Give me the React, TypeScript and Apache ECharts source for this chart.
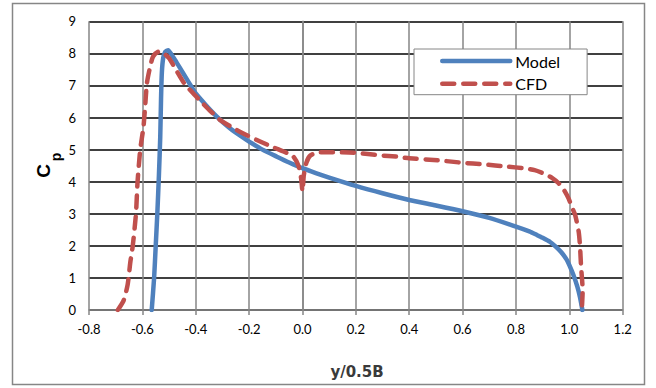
import React, { useEffect, useRef } from "react";
import * as echarts from "echarts";

// Pressure coefficient distribution across the span (y / 0.5B)
const modelX = [
  -0.565, -0.556, -0.55, -0.544, -0.538, -0.533, -0.53, -0.527, -0.522, -0.514,
  -0.503, -0.49, -0.477, -0.45, -0.425, -0.4, -0.36, -0.321, -0.28, -0.24, -0.2,
  -0.15, -0.096, -0.05, 0, 0.05, 0.1, 0.2, 0.3, 0.4, 0.5, 0.6, 0.7, 0.8, 0.85,
  0.878, 0.9, 0.928, 0.95, 0.97, 0.99, 1.0, 1.015, 1.03, 1.04, 1.049,
];
const modelY = [
  0, 1, 2, 3, 4.2, 5.4, 6.6, 7.4, 7.85, 8.05,
  8.1, 7.95, 7.79, 7.42, 7.08, 6.75, 6.37, 6.03, 5.72, 5.47, 5.25,
  5.0, 4.78, 4.6, 4.42, 4.27, 4.13, 3.87, 3.64, 3.43, 3.26, 3.08, 2.87, 2.6, 2.45,
  2.34, 2.25, 2.12, 1.97, 1.8, 1.57, 1.4, 1.1, 0.73, 0.4, 0,
];

const cfdX = [
  -0.692, -0.67, -0.655, -0.645, -0.636, -0.624, -0.618, -0.608, -0.596, -0.59,
  -0.583, -0.571, -0.56, -0.54, -0.52, -0.5, -0.475, -0.446, -0.415, -0.383,
  -0.345, -0.308, -0.246, -0.171, -0.109, -0.06, -0.034, -0.015, -0.005, 0,
  0.005, 0.015, 0.03, 0.066, 0.104, 0.2, 0.29, 0.354, 0.4, 0.516, 0.6, 0.678,
  0.766, 0.828, 0.87, 0.903, 0.935, 0.96, 0.98, 0.997, 1.01, 1.022, 1.035, 1.04,
  1.044, 1.05, 1.047,
];
const cfdY = [
  0, 0.3, 0.8, 1.5, 2, 3, 4, 5, 5.7, 6.3,
  7.07, 7.58, 7.9, 8.05, 8.0, 7.85, 7.5, 7.1, 6.8, 6.52,
  6.2, 5.92, 5.61, 5.3, 5.07, 4.9, 4.78, 4.5, 4.1, 3.7,
  4.2, 4.6, 4.82, 4.92, 4.92, 4.9, 4.82, 4.78, 4.73, 4.66, 4.59, 4.54,
  4.47, 4.42, 4.36, 4.26, 4.12, 3.95, 3.74, 3.48, 3.2, 2.96, 2.44, 2.0,
  1.35, 0.62, 0.05,
];

const xTicks = { min: -0.8, max: 1.2, step: 0.2 };
const yTicks = { min: 0, max: 9, step: 1 };

const zip = (xs: number[], ys: number[]) => xs.map((x, i) => [x, ys[i]]);

const BLUE = "#4F81BD";
const RED = "#C0504D";
const GRAY = "#868686";
const DASH = [12, 9];

export default function App() {
  const ref = useRef<HTMLDivElement>(null);

  useEffect(() => {
    if (!ref.current) return;
    const chart = echarts.init(ref.current, null, { renderer: "svg" });
    chart.setOption({
      animation: false,
      backgroundColor: "#ffffff",
      grid: {
        left: 89,
        right: 33.3,
        top: 21.3,
        bottom: 78,
        containLabel: false,
        outerBoundsMode: "none",
      },
      xAxis: {
        type: "value",
        min: xTicks.min,
        max: xTicks.max,
        interval: xTicks.step,
        axisLine: { show: true, onZero: false, lineStyle: { color: GRAY, width: 1.5 } },
        axisTick: { show: true, length: 5, lineStyle: { color: GRAY, width: 1.5 } },
        axisLabel: {
          margin: 12,
          color: "#000",
          fontFamily: "Lato",
          fontSize: 13,
          formatter: (v: number) => v.toFixed(1),
        },
        splitLine: { show: true, lineStyle: { color: GRAY, width: 1.5 } },
      },
      yAxis: {
        type: "value",
        min: yTicks.min,
        max: yTicks.max,
        interval: yTicks.step,
        axisLine: { show: true, lineStyle: { color: GRAY, width: 1.5 } },
        axisTick: { show: false },
        axisLabel: {
          margin: 13,
          color: "#000",
          fontFamily: "Lato",
          fontSize: 13,
        },
        splitLine: { show: true, lineStyle: { color: "#000", width: 1.5 } },
      },
      legend: {
        orient: "vertical",
        left: 414,
        top: 49,
        padding: [4, 27, 3, 26],
        itemWidth: 68,
        itemHeight: 16,
        itemGap: 6.7,
        backgroundColor: "#fff",
        borderColor: GRAY,
        borderWidth: 1,
        borderRadius: 0,
        itemStyle: { opacity: 0 },
        textStyle: { fontFamily: "Lato", fontSize: 16, color: "#000" },
        data: [
          { name: "Model", lineStyle: { color: BLUE, width: 4.5, type: "solid", cap: "round" } },
          { name: "CFD", lineStyle: { color: RED, width: 4.5, type: DASH, cap: "round" } },
        ],
      },
      series: [
        {
          name: "Model",
          type: "line",
          data: zip(modelX, modelY),
          showSymbol: false,
          symbol: "none",
          smooth: 0.2,
          lineStyle: { color: BLUE, width: 4.5, cap: "round", join: "round" },
          itemStyle: { color: BLUE },
          z: 3,
        },
        {
          name: "CFD",
          type: "line",
          data: zip(cfdX, cfdY),
          showSymbol: false,
          symbol: "none",
          smooth: 0.2,
          lineStyle: { color: RED, width: 4.5, type: DASH, cap: "round", join: "round" },
          itemStyle: { color: RED },
          z: 4,
        },
      ],
      graphic: [
        {
          type: "rect",
          shape: { x: 12.5, y: 3.5, width: 632, height: 381 },
          style: { fill: "none", stroke: GRAY, lineWidth: 1.5 },
          silent: true,
          z: 0,
        },
        {
          type: "text",
          x: 43,
          y: 171,
          rotation: Math.PI / 2,
          style: {
            text: "C",
            font: "bold 19px 'Liberation Sans'",
            fill: "#000",
            align: "center",
            verticalAlign: "middle",
          },
        },
        {
          type: "text",
          x: 56,
          y: 157,
          rotation: Math.PI / 2,
          style: {
            text: "p",
            font: "bold 14px 'Liberation Sans'",
            fill: "#000",
            align: "center",
            verticalAlign: "middle",
          },
        },
        {
          type: "text",
          x: 357,
          y: 372,
          style: {
            text: "y/0.5B",
            font: "bold 15px 'DejaVu Sans'",
            fill: "#3a3a3a",
            align: "center",
            verticalAlign: "middle",
          },
        },
      ],
    });
    return () => chart.dispose();
  }, []);

  return (
    <div
      ref={ref}
      style={{ position: "absolute", left: 0, top: 0, width: 656, height: 388, background: "#fff" }}
    />
  );
}
